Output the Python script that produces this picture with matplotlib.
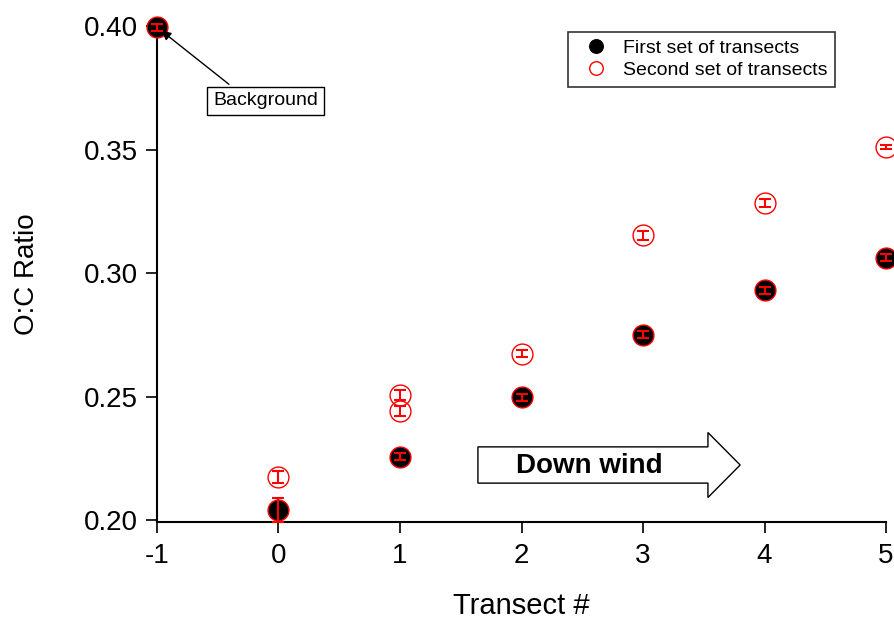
import matplotlib.pyplot as plt
import matplotlib.patches as mpatches

plt.rcParams['font.family'] = ['Liberation Sans', 'DejaVu Sans']

# first set of transects (incl. background at -1)
x1 = [-1, 0, 1, 2, 3, 4, 5]
y1 = [0.3995, 0.2040, 0.2257, 0.2497, 0.2750, 0.2930, 0.3062]
e1 = [0.0015, 0.0050, 0.0015, 0.0015, 0.0015, 0.0015, 0.0015]

# second set of transects
x2 = [0, 1, 1, 2, 3, 4, 5]
y2 = [0.2175, 0.2507, 0.2440, 0.2673, 0.3152, 0.3284, 0.3510]
e2 = [0.0025, 0.0020, 0.0020, 0.0015, 0.0020, 0.0015, 0.0008]

xticks = [-1, 0, 1, 2, 3, 4, 5]
yticks = [0.20, 0.25, 0.30, 0.35, 0.40]

fig = plt.figure(figsize=(8.95, 6.25), dpi=100)
ax = fig.add_axes([0.1754, 0.1648, 0.8146, 0.7936])

# markers
ax.plot(x1, y1, 'o', ms=15, mfc='black', mec='red', mew=1,
        label='First set of transects', clip_on=False, zorder=3)
ax.plot(x2, y2, 'o', ms=15, mfc='none', mec='red', mew=1,
        label='Second set of transects', clip_on=False, zorder=3)
# error bars on top
ax.errorbar(x1, y1, yerr=e1, fmt='none', ecolor='red', elinewidth=1.5,
            capsize=4, capthick=1.5, clip_on=False, zorder=5)
ax.errorbar(x2, y2, yerr=e2, fmt='none', ecolor='red', elinewidth=1.5,
            capsize=4, capthick=1.5, clip_on=False, zorder=5)

ax.set_xlim(-1, 5)
ax.set_ylim(0.1992, 0.40)
ax.set_xticks(xticks)
ax.set_xticklabels([str(v) for v in xticks])
ax.set_yticks(yticks)
ax.set_yticklabels(['%.2f' % v for v in yticks])
ax.tick_params(labelsize=20, length=8, width=1.2, direction='out')
ax.tick_params(axis='x', pad=7)
ax.tick_params(axis='y', pad=6)
for s in ['top', 'right']:
    ax.spines[s].set_visible(False)
for s in ['left', 'bottom']:
    ax.spines[s].set_linewidth(1.5)

ax.set_xlabel('Transect #', fontsize=21, labelpad=17)
ax.set_ylabel('O:C Ratio', fontsize=20, labelpad=31)

leg = fig.legend(loc='upper right', bbox_to_anchor=(0.933, 0.949),
                 fontsize=14, frameon=True, fancybox=False, edgecolor='black',
                 markerscale=0.65, handlelength=2, handletextpad=0.4,
                 borderpad=0.4, labelspacing=0.2, borderaxespad=0)
leg.get_frame().set_linewidth(1.2)
leg.legend_handles[0].set_markeredgecolor('black')

ax.annotate('Background', xy=(x1[0], y1[0]), xytext=(78, -53), textcoords='offset points',
            fontsize=14, ha='center', va='center',
            bbox=dict(boxstyle='square,pad=0.3', fc='white', ec='black', lw=1),
            arrowprops=dict(arrowstyle='-|>', color='black', lw=1, mutation_scale=14,
                            relpos=(0.25, 1.0), shrinkB=4))

arrow = mpatches.FancyArrow(0.534, 0.256, 0.293, 0, width=0.058, head_width=0.104,
                            head_length=0.036, length_includes_head=True,
                            transform=fig.transFigure, fc='white', ec='black', lw=1)
fig.patches.append(arrow)
fig.text(0.659, 0.254, 'Down wind', fontsize=20, fontweight='bold', ha='center', va='center')

fig.savefig('out.png', dpi=100)
